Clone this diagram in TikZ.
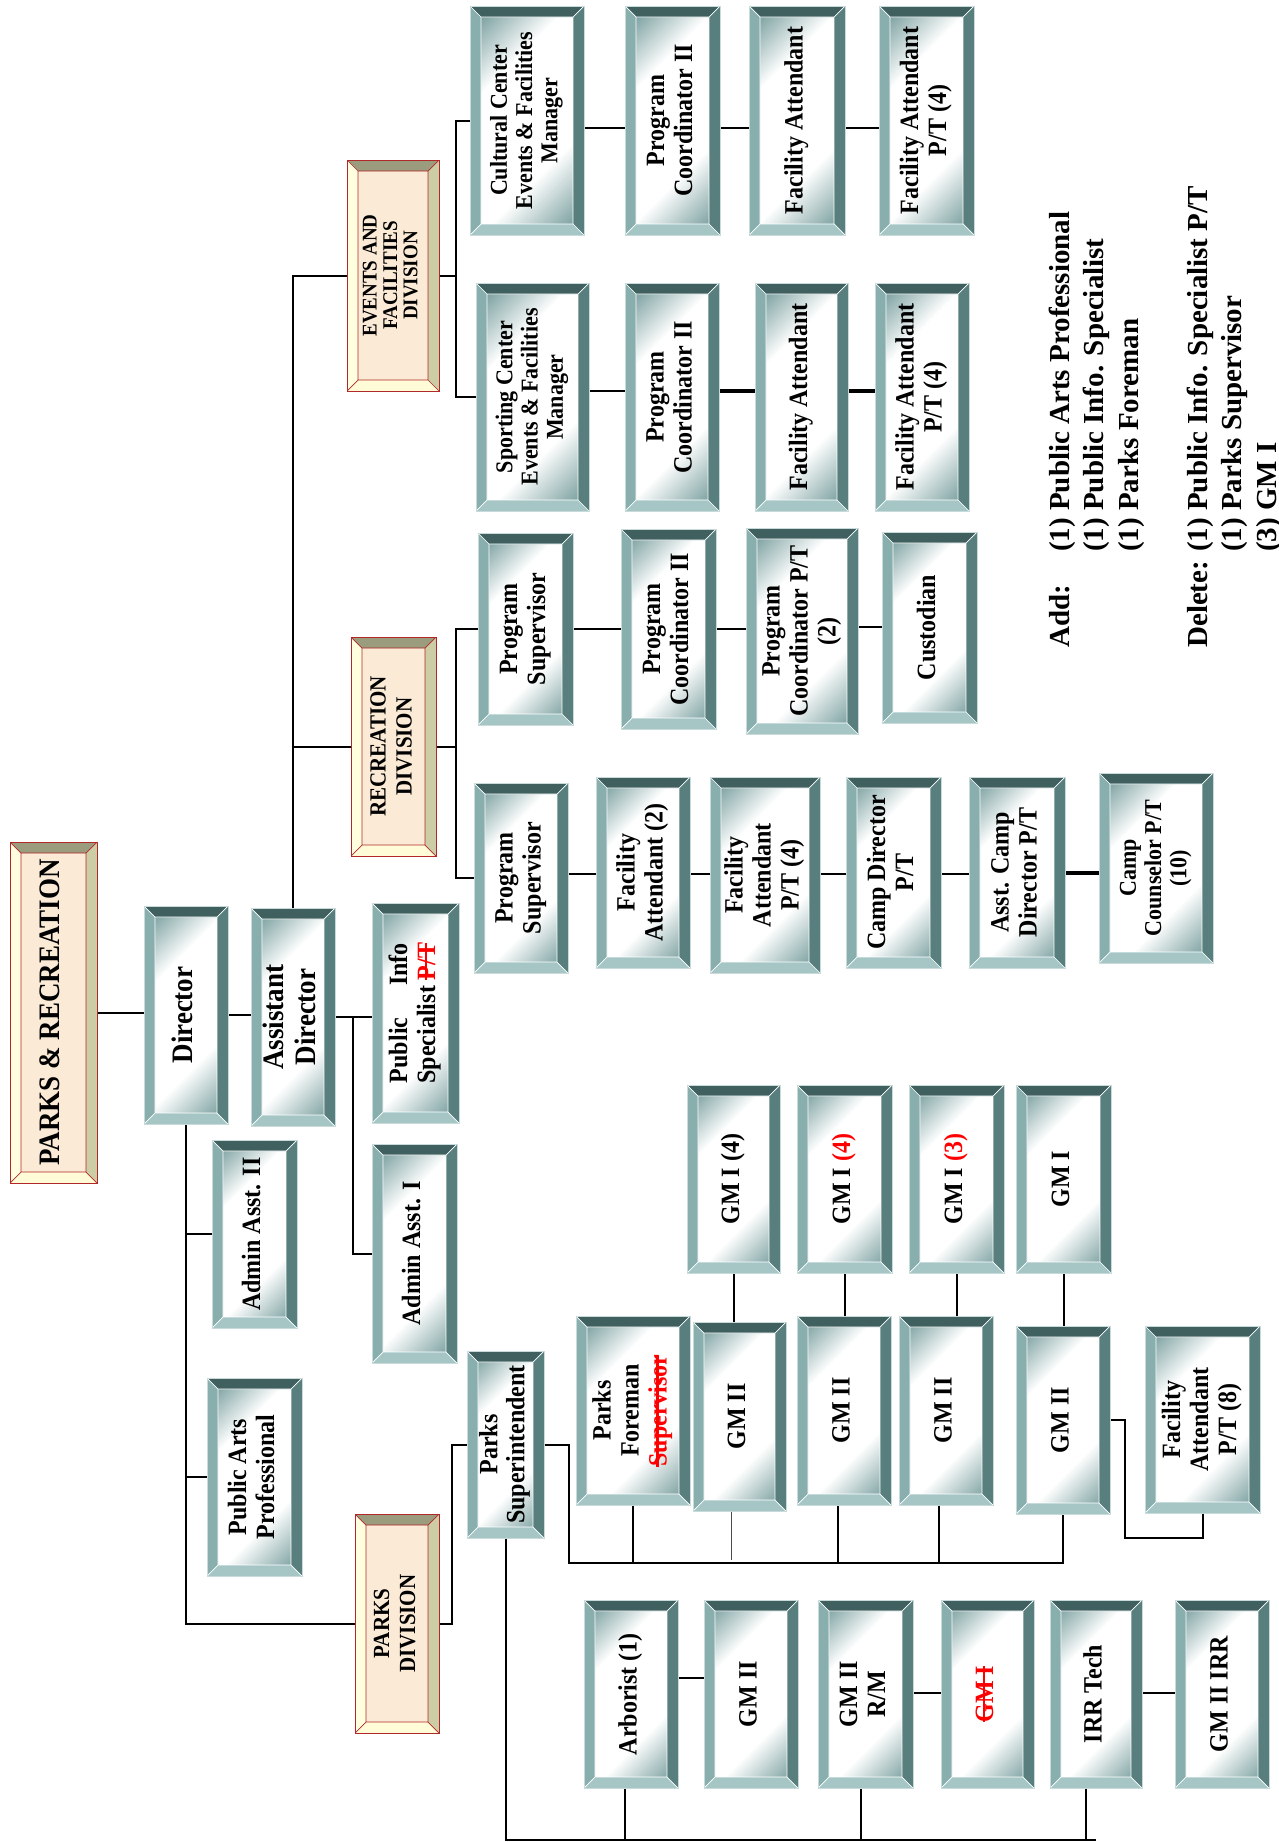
\documentclass[tikz,border=0pt]{standalone}
\usepackage{fontspec}
\setmainfont{Liberation Serif}
\usepackage{graphicx}
\usetikzlibrary{calc}
\definecolor{bvT}{RGB}{64,96,96}
\definecolor{bvL}{RGB}{136,174,174}
\definecolor{bvR}{RGB}{88,126,126}
\definecolor{bvB}{RGB}{166,198,198}
\definecolor{bxgr}{RGB}{118,156,156}
\definecolor{bxline}{RGB}{200,218,218}
\definecolor{dvT}{RGB}{155,155,125}
\definecolor{dvL}{RGB}{255,255,224}
\definecolor{dvR}{RGB}{205,205,165}
\definecolor{dvB}{RGB}{255,252,215}
\definecolor{dcream}{RGB}{251,235,214}
\definecolor{dred}{RGB}{176,40,40}
\pgfdeclareverticalshading{bxsh}{100bp}{color(0bp)=(bxgr); color(18bp)=(bxgr); color(36bp)=(white); color(65bp)=(white); color(82bp)=(bxgr); color(100bp)=(bxgr)}
\pgfdeclarelayer{bg}\pgfsetlayers{bg,main}
\newcommand{\bevel}[5]{%
 \fill[#1] let \p1=(path picture bounding box.south west), \p2=(path picture bounding box.north east) in (\x1,\y2) -- (\x2,\y2) -- (\x2-11pt,\y2-11pt) -- (\x1+11pt,\y2-11pt) -- cycle;
 \fill[#2] let \p1=(path picture bounding box.south west), \p2=(path picture bounding box.north east) in (\x1,\y1) -- (\x1,\y2) -- (\x1+11pt,\y2-11pt) -- (\x1+11pt,\y1+11pt) -- cycle;
 \fill[#3] let \p1=(path picture bounding box.south west), \p2=(path picture bounding box.north east) in (\x2,\y1) -- (\x2,\y2) -- (\x2-11pt,\y2-11pt) -- (\x2-11pt,\y1+11pt) -- cycle;
 \fill[#4] let \p1=(path picture bounding box.south west), \p2=(path picture bounding box.north east) in (\x1,\y1) -- (\x2,\y1) -- (\x2-11pt,\y1+11pt) -- (\x1+11pt,\y1+11pt) -- cycle;
 \draw[#5,line width=0.7pt] let \p1=(path picture bounding box.south west), \p2=(path picture bounding box.north east) in (\x1+11pt,\y1+11pt) rectangle (\x2-11pt,\y2-11pt) (\x1,\y1) -- (\x1+11pt,\y1+11pt) (\x1,\y2) -- (\x1+11pt,\y2-11pt) (\x2,\y2) -- (\x2-11pt,\y2-11pt) (\x2,\y1) -- (\x2-11pt,\y1+11pt);
}
\newcommand{\rl}[1]{\rotatebox{90}{\scalebox{1}[1.1]{\begin{tabular}{@{}c@{}}#1\end{tabular}}}}
\newcommand{\stk}[1]{{\color{red}\setbox0\hbox{#1}\rlap{\rule[0.3em]{\wd0}{0.09em}}\box0}}
\tikzset{
 ln/.style={line width=2pt,black},
 lnbold/.style={line width=4.5pt},
 lnthin/.style={line width=1.3pt,black!70},
 bbox/.style={rectangle,inner sep=0pt,outer sep=0pt,draw=bxline,line width=0.8pt,
   shade,shading=bxsh,shading angle=45,
   font=\fontsize{24}{25.5}\selectfont\bfseries,
   path picture={\bevel{bvT}{bvL}{bvR}{bvB}{white}}},
 dbox/.style={rectangle,inner sep=0pt,outer sep=0pt,draw=dred,line width=0.9pt,fill=dcream,
   font=\fontsize{21}{23.5}\selectfont\bfseries,
   path picture={\bevel{dvT}{dvL}{dvR}{dvB}{dred}}},
 f27/.style={font=\fontsize{27}{29}\selectfont\bfseries},
 f22/.style={font=\fontsize{22}{23}\selectfont\bfseries},
 f19/.style={font=\fontsize{19}{18.5}\selectfont\bfseries},
}
\newcommand{\mybox}[7][]{\node[bbox,minimum width={#5-#3},minimum height={#6-#4},#1] (#2) at ({(#3+#5)/2},{-(#4+#6)/2}) {\rl{#7}};}
\newcommand{\mydiv}[7][]{\node[dbox,minimum width={#5-#3},minimum height={#6-#4},#1] (#2) at ({(#3+#5)/2},{-(#4+#6)/2}) {\rl{#7}};}
\newcommand{\hcon}[4][]{\draw[ln,#1] (#2.east |- 0,-#4) -- (#3.west |- 0,-#4);}
\begin{document}
\begin{tikzpicture}[x=1pt,y=1pt]
\useasboundingbox (0,0) rectangle (1279,-1842);
% divisions
\mydiv[f27]{pr}{10}{842}{97}{1183}{PARKS \& RECREATION}
\mydiv[f19]{efd}{347}{160}{439}{391}{EVENTS AND\\FACILITIES\\DIVISION}
\mydiv{rcd}{351}{637}{436}{856}{RECREATION\\DIVISION}
\mydiv{pkd}{355}{1514}{439}{1733}{PARKS\\DIVISION}
% top level
\mybox[f27]{dir}{144}{906}{228}{1124}{Director}
\mybox[f27]{ad}{251}{908}{335}{1126}{Assistant\\Director}
\mybox{pis}{372}{903}{459}{1123}{\hbox to 140pt{Public\hfill Info}\\Specialist \stk{P/T}}
\mybox{aa2}{212}{1140}{297}{1328}{Admin Asst. II}
\mybox{aa1}{372}{1144}{457}{1363}{Admin Asst. I}
\mybox{pap}{207}{1378}{302}{1576}{Public Arts\\Professional}
\mybox[font=\fontsize{24}{24.5}\selectfont\bfseries]{psup}{467}{1351}{544}{1538}{Parks\\Superintendent}
% events & facilities
\mybox[f22]{cc}{470}{6}{584}{235}{Cultural Center\\Events \& Facilities\\Manager}
\mybox{pc1}{625}{6}{720}{235}{Program\\Coordinator II}
\mybox{fa1}{749}{6}{845}{235}{Facility Attendant}
\mybox{fap1}{879}{6}{974}{235}{Facility Attendant\\P/T (4)}
\mybox[f22]{sc}{476}{283}{589}{511}{Sporting Center\\Events \& Facilities\\Manager}
\mybox{pc2}{625}{283}{719}{511}{Program\\Coordinator II}
\mybox{fa2}{755}{283}{848}{511}{Facility Attendant}
\mybox{fap2}{875}{283}{969}{511}{Facility Attendant\\P/T (4)}
% recreation
\mybox{ps1}{478}{533}{573}{725}{Program\\Supervisor}
\mybox{pc3}{621}{529}{716}{729}{Program\\Coordinator II}
\mybox{pcpt}{746}{528}{858}{734}{Program\\Coordinator P/T\\(2)}
\mybox{cust}{882}{532}{977}{723}{Custodian}
\mybox{ps2}{474}{783}{568}{973}{Program\\Supervisor}
\mybox{fa3}{596}{777}{690}{968}{Facility\\Attendant (2)}
\mybox{fap3}{710}{777}{820}{973}{Facility\\Attendant\\P/T (4)}
\mybox{cd}{846}{777}{941}{968}{Camp Director\\P/T}
\mybox{acd}{969}{777}{1065}{968}{Asst. Camp\\Director P/T}
\mybox[f22]{ccl}{1099}{773}{1213}{963}{Camp\\Counselor P/T\\(10)}
% parks
\mybox{gm1a}{687}{1085}{780}{1273}{GM I (4)}
\mybox{gm1b}{797}{1085}{892}{1273}{GM I \textcolor{red}{(4)}}
\mybox{gm1c}{909}{1085}{1004}{1273}{GM I \textcolor{red}{(3)}}
\mybox{gm1d}{1016}{1085}{1111}{1273}{GM I}
\mybox{pf}{576}{1316}{690}{1505}{Parks\\Foreman\\\stk{Supervisor}}
\mybox{gm2a}{693}{1322}{786}{1511}{GM II}
\mybox{gm2b}{797}{1316}{891}{1505}{GM II}
\mybox{gm2c}{899}{1316}{993}{1505}{GM II}
\mybox{gm2d}{1016}{1326}{1110}{1514}{GM II}
\mybox{fap8}{1145}{1326}{1260}{1513}{Facility\\Attendant\\P/T (8)}
\mybox{arb}{584}{1600}{678}{1788}{Arborist (1)}
\mybox{gm2e}{704}{1600}{798}{1788}{GM II}
\mybox{rm}{818}{1600}{913}{1788}{GM II\\R/M}
\mybox{gmx}{941}{1600}{1034}{1788}{\stk{GM I}}
\mybox{irr}{1050}{1600}{1142}{1788}{IRR Tech}
\mybox{gmirr}{1175}{1600}{1269}{1788}{GM II IRR}
% notes
\node[rotate=90,anchor=north west,inner sep=0pt,font=\fontsize{29}{34.5}\selectfont\bfseries] (notes) at (1045,-648)
 {\begin{tabular}{@{}l@{}l@{}}\makebox[96pt][l]{Add:} & (1) Public Arts Professional\\ & (1) Public Info. Specialist\\ & (1) Parks Foreman\\ & \\ Delete: & (1) Public Info. Specialist P/T\\ & (1) Parks Supervisor\\ & (3) GM I\end{tabular}};
\begin{pgfonlayer}{bg}
\fill[white] (0,0) rectangle (1279,-1842);
\draw[ln] (pr.east) -- (pr.east -| dir.west);
\draw[ln] (dir.east) -- (dir.east -| ad.west);
\draw[ln] (ad.east) -- (ad.east -| pis.west);
\coordinate (adb) at ([xshift=18]ad.east);
\draw[ln] (adb) |- (aa1.west);
\draw[ln] (dir.south) |- (aa2.west);
\draw[ln] (dir.south) |- (pap.west);
\draw[ln] (dir.south) |- (pkd.west);
\draw[ln] (ad.north) |- (efd.west);
\draw[ln] (ad.north) |- (rcd.west);
\coordinate (efb) at ([xshift=17]efd.east);
\draw[ln] (efd.east) -- (efb);
\draw[ln] (efb) |- (cc.west);
\draw[ln] (efb) |- (sc.west);
\hcon{cc}{pc1}{128}
\hcon{pc1}{fa1}{128}
\hcon{fa1}{fap1}{128}
\hcon{sc}{pc2}{391}
\hcon[lnbold]{pc2}{fa2}{391}
\hcon[lnbold]{fa2}{fap2}{391}
\coordinate (rcb) at ([xshift=20]rcd.east);
\draw[ln] (rcd.east) -- (rcb);
\draw[ln] (rcb) |- (ps1.west);
\draw[ln] (rcb) |- (ps2.west);
\hcon{ps1}{pc3}{629}
\hcon{pc3}{pcpt}{629}
\hcon{pcpt}{cust}{627}
\hcon{ps2}{fa3}{874}
\hcon{fa3}{fap3}{874}
\hcon{fap3}{cd}{874}
\hcon{cd}{acd}{874}
\hcon[lnbold]{acd}{ccl}{873}
\draw[ln] (pkd.east) -- ++(13,0) |- (psup.west);
\coordinate (pb0) at ([xshift=25]psup.east);
\draw[ln] (psup.east) -- (pb0) |- (gm2d.south |- 0,-1563) -- (gm2d.south);
\draw[ln] (pf.south) -- (pf.south |- 0,-1563);
\coordinate (g2a) at ([xshift=-8]gm2a.south);
\draw[lnthin] (g2a) -- (g2a |- 0,-1560);
\coordinate (g2b) at ([xshift=-6]gm2b.south);
\draw[ln] (g2b) -- (g2b |- 0,-1563);
\coordinate (g2c) at ([xshift=-7]gm2c.south);
\draw[ln] (g2c) -- (g2c |- 0,-1563);
\draw[ln] (gm1a.south) -- (gm1a.south |- gm2a.north);
\draw[ln] (gm1b.south) -- (gm1b.south |- gm2b.north);
\draw[ln] (gm1c.south) -- (gm1c.south |- gm2c.north);
\draw[ln] (gm1d.south) -- (gm1d.south |- gm2d.north);
\draw[ln] (gm2d.east) -- ++(15,0) |- ([yshift=-25]fap8.south) -- (fap8.south);
\draw[ln] (psup.south) |- (irr.south |- 0,-1840);
\coordinate (arbd) at ([xshift=-6]arb.south);
\draw[ln] (arbd) -- (arbd |- 0,-1840);
\coordinate (rmd) at ([xshift=-5]rm.south);
\draw[ln] (rmd) -- (rmd |- 0,-1840);
\coordinate (irrd) at ([xshift=-10]irr.south);
\draw[ln] (irrd) -- (irrd |- 0,-1840);
\hcon{arb}{gm2e}{1678}
\hcon{rm}{gmx}{1693}
\hcon{irr}{gmirr}{1693}
\end{pgfonlayer}
\end{tikzpicture}
\end{document}
